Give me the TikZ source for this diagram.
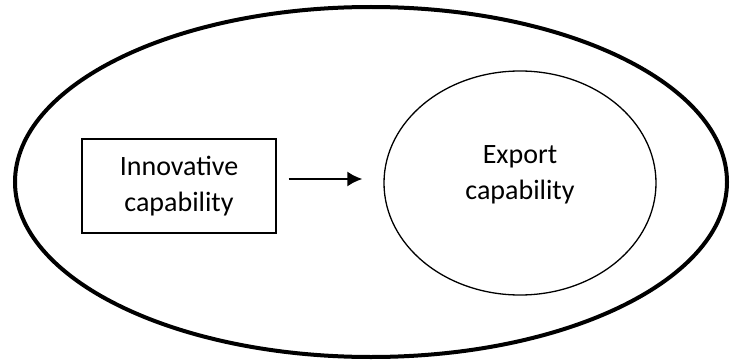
\documentclass[tikz,border=0pt]{standalone}
\usepackage{fontspec}
\setmainfont{Carlito}
\usetikzlibrary{shapes.geometric,arrows.meta}

\begin{document}
\begin{tikzpicture}[x=1pt, y=-1pt,
 txt/.style={align=center, font=\fontsize{28}{36}\selectfont},
 box/.style={draw, line width=1.3pt, inner sep=0pt, minimum width=194pt, minimum height=94pt},
 oval/.style={draw, ellipse, inner sep=0pt}]
\useasboundingbox (0,0) rectangle (731,361);
\node[oval, line width=4pt, minimum width=712pt, minimum height=350pt] (outer) at (371,182) {};
\node[box, txt] (inno) at (179,186) {Innovative\\capability};
\node[oval, line width=1.3pt, minimum width=272pt, minimum height=224pt] (expo) at (520,183) {};
\node[txt] (expolbl) at (520,175) {Export\\capability};
\draw[line width=2pt, -{Latex[length=15pt,width=15pt]}, shorten <=12pt, shorten >=21pt]
 ([yshift=7pt]inno.east) -- ([yshift=7pt]inno.east -| expo.west);
\end{tikzpicture}
\end{document}
